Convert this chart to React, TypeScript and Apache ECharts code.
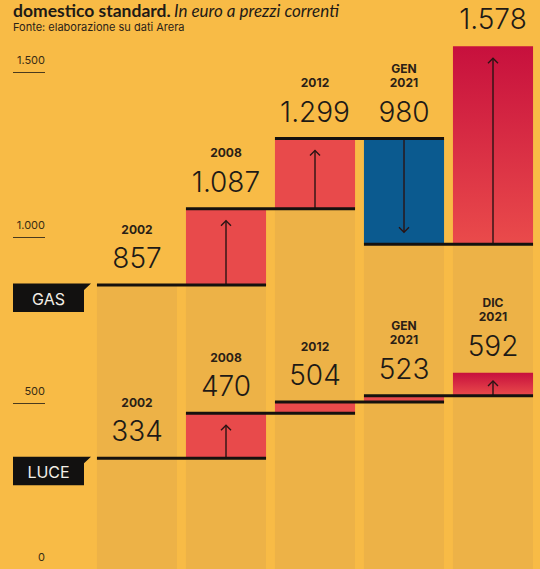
import React, { useEffect, useRef } from "react";
import * as echarts from "echarts";

const categories = ["2002", "2008", "2012", "GEN\n2021", "DIC\n2021"];
const gasValues = [857, 1087, 1299, 980, 1578];
const luceValues = [334, 470, 504, 523, 592];
const yTicks = [0, 500, 1000, 1500];
const seriesNames = ["GAS", "LUCE"];
const titleBold = "domestico standard.";
const titleItalic = "In euro a prezzi correnti";
const sourceText = "Fonte: elaborazione su dati Arera";

const BG = "#F8BB46";
const SHADE = "#EDB247";
const RED = "#E84A4B";
const BLUE = "#0B5A8F";
const INK = "#1E1A16";
const FONT = "Inter, 'Noto Sans', sans-serif";
const TFONT = "Lato, 'Noto Sans', sans-serif";

function fmt(v: number): string {
  if (v >= 1000) {
    return Math.floor(v / 1000) + "." + String(v % 1000).padStart(3, "0");
  }
  return String(v);
}

function gradient() {
  return new echarts.graphic.LinearGradient(0, 0, 0, 1, [
    { offset: 0, color: "#C7103D" },
    { offset: 1, color: "#EA4B4B" },
  ]);
}

function makeRender(values: number[], name: string) {
  return (params: any, api: any) => {
    const i = params.dataIndex;
    const v = values[i];
    const prev = i > 0 ? values[i - 1] : null;
    const pt = api.coord([i, v]);
    const cx = pt[0];
    const yv = pt[1];
    const bw = api.size([1, 0])[0];
    const w = bw * 0.9;
    const left = cx - w / 2;
    const children: any[] = [];
    let top = yv;
    if (prev !== null) {
      const yp = api.coord([i, prev])[1];
      top = Math.min(yp, yv);
      const bot = Math.max(yp, yv);
      const up = v > prev;
      const fill = !up ? BLUE : i === values.length - 1 ? gradient() : RED;
      children.push({
        type: "rect",
        shape: { x: left, y: top, width: w, height: bot - top },
        style: { fill },
        z2: 1,
      });
      const h = bot - top;
      if (h > 15) {
        const off = Math.min(12, h * 0.36);
        const ax = cx;
        const stroke = { stroke: "#2A1414", lineWidth: 1.4, fill: "none" };
        if (up) {
          const ty = top + off;
          children.push({ type: "line", shape: { x1: ax, y1: bot, x2: ax, y2: ty }, style: stroke, z2: 2 });
          children.push({
            type: "polyline",
            shape: { points: [[ax - 5, ty + 5], [ax, ty], [ax + 5, ty + 5]] },
            style: stroke,
            z2: 2,
          });
        } else {
          const ty = bot - off;
          children.push({ type: "line", shape: { x1: ax, y1: top, x2: ax, y2: ty }, style: stroke, z2: 2 });
          children.push({
            type: "polyline",
            shape: { points: [[ax - 5, ty - 5], [ax, ty], [ax + 5, ty - 5]] },
            style: stroke,
            z2: 2,
          });
        }
      }
    }
    if (i < values.length - 1) {
      children.push({
        type: "line",
        shape: { x1: left, y1: yv, x2: left + bw + w, y2: yv },
        style: { stroke: "#15110E", lineWidth: 3 },
        z2: 10,
      });
    }
    const numY = top - 27;
    children.push({
      type: "text",
      x: cx,
      y: numY,
      style: {
        text: fmt(v),
        fill: INK,
        fontSize: 28,
        fontWeight: 300,
        fontFamily: FONT,
        align: "center",
        verticalAlign: "middle",
      },
      z2: 20,
    });
    const lines = categories[i].split("\n");
    for (let k = 0; k < lines.length; k++) {
      const ly = numY - 29 - (lines.length - 1 - k) * 14;
      if (ly < 6) continue;
      children.push({
        type: "text",
        x: cx,
        y: ly,
        style: {
          text: lines[k],
          fill: "#2A2016",
          fontSize: 12,
          fontWeight: 700,
          fontFamily: FONT,
          align: "center",
          verticalAlign: "middle",
        },
        z2: 20,
      });
    }
    if (i === 0) {
      children.push({
        type: "polygon",
        shape: {
          points: [
            [13, yv - 1.5],
            [91, yv - 1.5],
            [84, yv + 5],
            [84, yv + 27],
            [13, yv + 27],
          ],
        },
        style: { fill: "#121110" },
        z2: 15,
      });
      children.push({
        type: "text",
        x: 48.5,
        y: yv + 13.5,
        style: {
          text: name,
          fill: "#F2EEE6",
          fontSize: 16,
          fontWeight: 400,
          fontFamily: FONT,
          align: "center",
          verticalAlign: "middle",
        },
        z2: 16,
      });
    }
    return { type: "group", children };
  };
}

function shadeRender(params: any, api: any) {
  const i = params.dataIndex;
  const v = gasValues[i];
  const prev = i > 0 ? gasValues[i - 1] : v;
  const topVal = Math.min(v, prev);
  const cx = api.coord([i, topVal])[0];
  const yt = api.coord([i, topVal])[1];
  const y0 = api.coord([i, 0])[1];
  const bw = api.size([1, 0])[0];
  const w = bw * 0.9;
  return {
    type: "rect",
    shape: { x: cx - w / 2, y: yt, width: w, height: y0 - yt },
    style: { fill: SHADE },
  };
}

export default function App() {
  const ref = useRef<HTMLDivElement>(null);
  useEffect(() => {
    if (!ref.current) return;
    const chart = echarts.init(ref.current, undefined, { renderer: "svg" });
    const option: any = {
      animation: false,
      backgroundColor: BG,
      grid: { left: 92.5, top: 72, width: 445, height: 499.5 },
      xAxis: {
        type: "category",
        data: categories,
        boundaryGap: true,
        show: false,
      },
      yAxis: {
        type: "value",
        min: 0,
        max: 1500,
        interval: 500,
        offset: 47.5,
        splitLine: { show: false },
        axisLine: { show: false },
        axisTick: { show: true, length: 32, lineStyle: { color: "#4A3A1E", width: 1 } },
        axisLabel: {
          margin: 0,
          color: "#3A2C14",
          fontSize: 11,
          fontFamily: FONT,
          verticalAlign: "bottom",
          padding: [0, 0, 7, 0],
          formatter: (val: number) => (yTicks.indexOf(val) >= 0 ? fmt(val) : ""),
        },
      },
      graphic: [
        {
          type: "text",
          left: 13,
          top: 1,
          style: {
            text: "{b|" + titleBold + "} {i|" + titleItalic + "}",
            rich: {
              b: { fontSize: 17.5, fontWeight: 700, fontFamily: TFONT, fill: INK },
              i: { fontSize: 17, fontStyle: "italic", fontWeight: 400, fontFamily: TFONT, fill: INK },
            },
          },
        },
        {
          type: "text",
          left: 13,
          top: 21,
          style: { text: sourceText, fontSize: 11, fontFamily: FONT, fill: "#2A2218" },
        },
      ],
      series: [
        {
          type: "custom",
          name: "base",
          clip: false,
          renderItem: shadeRender,
          data: gasValues.map((v, i) => [i, v]),
          encode: { x: 0, y: 1 },
          z: 1,
        },
        {
          type: "custom",
          name: seriesNames[1],
          clip: false,
          renderItem: makeRender(luceValues, seriesNames[1]),
          data: luceValues.map((v, i) => [i, v]),
          encode: { x: 0, y: 1 },
          z: 2,
        },
        {
          type: "custom",
          name: seriesNames[0],
          clip: false,
          renderItem: makeRender(gasValues, seriesNames[0]),
          data: gasValues.map((v, i) => [i, v]),
          encode: { x: 0, y: 1 },
          z: 3,
        },
      ],
    };
    chart.setOption(option);
    return () => chart.dispose();
  }, []);
  return (
    <div
      ref={ref}
      style={{ position: "fixed", left: 0, top: 0, width: 540, height: 569 }}
    />
  );
}
